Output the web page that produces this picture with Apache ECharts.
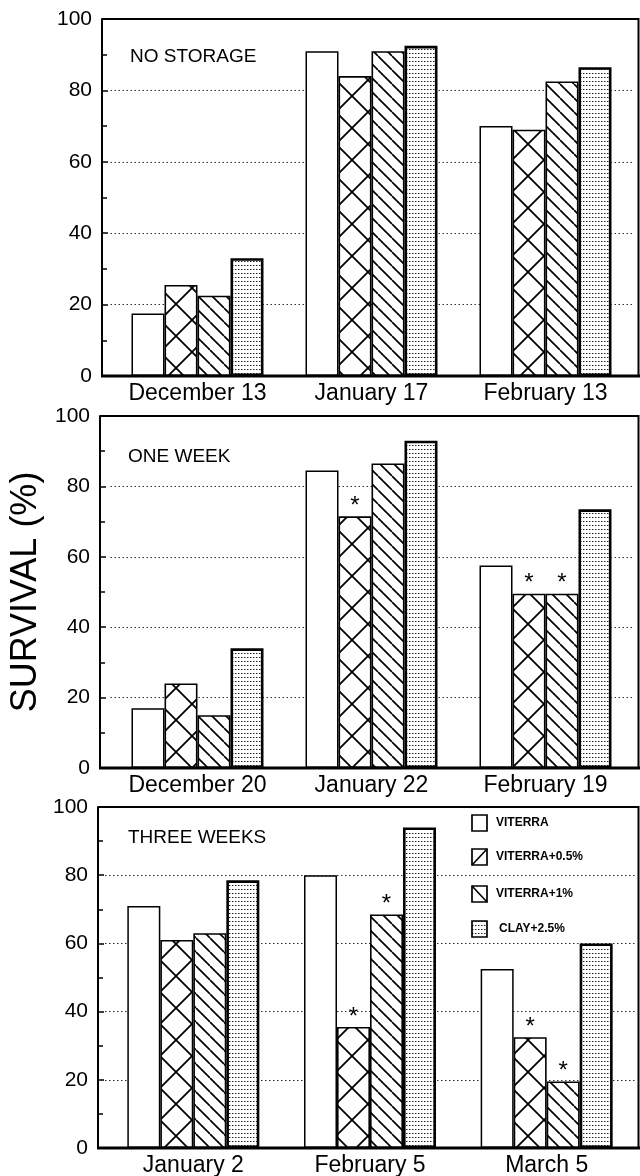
<!DOCTYPE html>
<html><head><meta charset="utf-8">
<script src="https://cdn.jsdelivr.net/npm/echarts@6.0.0/dist/echarts.min.js"></script>
<style>html,body{margin:0;padding:0;background:#fff}#c{width:640px;height:1176px}</style>
</head><body><div id="c"></div>
<script>
// ---------- data ----------
const seriesNames = ['VITERRA', 'VITERRA+0.5%', 'VITERRA+1%', 'CLAY+2.5%'];
const panelTitles = ['NO STORAGE', 'ONE WEEK', 'THREE WEEKS'];
const yAxisName = 'SURVIVAL (%)';
const yMin = 0, yMax = 100, yStep = 20;

const categoriesNoStorage = ['December 13', 'January 17', 'February 13'];
const categoriesOneWeek = ['December 20', 'January 22', 'February 19'];
const categoriesThreeWeeks = ['January 2', 'February 5', 'March 5'];

// NO STORAGE
const noStorageViterra = [17.5, 91, 70];
const noStorageViterra05 = [25.5, 84, 69];
const noStorageViterra1 = [22.5, 91, 82.5];
const noStorageClay = [33, 92.5, 86.5];
// ONE WEEK
const oneWeekViterra = [17, 84.5, 57.5];
const oneWeekViterra05 = [24, 71.5, 49.5];
const oneWeekViterra1 = [15, 86.5, 49.5];
const oneWeekClay = [34, 93, 73.5];
// THREE WEEKS
const threeWeeksViterra = [71, 80, 52.5];
const threeWeeksViterra05 = [61, 35.5, 32.5];
const threeWeeksViterra1 = [63, 68.5, 19.5];
const threeWeeksClay = [78.5, 94, 60];

// significance marks (*) : 1 = marked
const noMarks = [0, 0, 0];
const oneWeekMarks05 = [0, 1, 1];
const oneWeekMarks1 = [0, 0, 1];
const threeWeeksMarks05 = [0, 1, 1];
const threeWeeksMarks1 = [0, 1, 1];

// ---------- patterns ----------
function makeTile(w, h, draw) {
  const c = document.createElement('canvas');
  c.width = w; c.height = h;
  const ctx = c.getContext('2d');
  ctx.fillStyle = '#fff'; ctx.fillRect(0, 0, w, h);
  draw(ctx, w, h);
  return c;
}
const crossTile = makeTile(32, 32, (ctx, T) => {
  ctx.strokeStyle = '#000'; ctx.lineWidth = 1.8; ctx.beginPath();
  for (let k = -1; k <= 1; k++) {
    ctx.moveTo(k * T, 0); ctx.lineTo(k * T + T, T);
    ctx.moveTo(k * T + T, 0); ctx.lineTo(k * T, T);
  }
  ctx.stroke();
});
const diagTile = makeTile(14, 14, (ctx, T) => {
  ctx.strokeStyle = '#000'; ctx.lineWidth = 1.7; ctx.beginPath();
  for (let k = -1; k <= 1; k++) { ctx.moveTo(k * T, 0); ctx.lineTo(k * T + T, T); }
  ctx.stroke();
});
const dotTile = makeTile(3, 4, (ctx) => {
  ctx.fillStyle = '#222'; ctx.fillRect(1, 1, 1, 1);
  ctx.fillStyle = '#999'; ctx.fillRect(2, 1, 1, 1);
});
const fills = [
  '#fff',
  { image: crossTile, repeat: 'repeat' },
  { image: diagTile, repeat: 'repeat' },
  { image: dotTile, repeat: 'repeat' }
];
const borderWidths = [1.5, 1.6, 1.6, 2.6];

// ---------- layout ----------
const FONT = '"Liberation Sans", Arial, Helvetica, sans-serif';
const panels = [
  { top: 19, bottom: 376, left: 110.5, right: 632.5, axisX: 102, cats: categoriesNoStorage,
    vals: [noStorageViterra, noStorageViterra05, noStorageViterra1, noStorageClay],
    marks: [noMarks, noMarks, noMarks, noMarks], titleX: 130, titleY: 57, labelShift: 4 },
  { top: 416, bottom: 768, left: 110.5, right: 632.5, axisX: 100, cats: categoriesOneWeek,
    vals: [oneWeekViterra, oneWeekViterra05, oneWeekViterra1, oneWeekClay],
    marks: [noMarks, oneWeekMarks05, oneWeekMarks1, noMarks], titleX: 128, titleY: 457, labelShift: 18 },
  { top: 807, bottom: 1148, left: 105, right: 635, axisX: 98, cats: categoriesThreeWeeks,
    vals: [threeWeeksViterra, threeWeeksViterra05, threeWeeksViterra1, threeWeeksClay],
    marks: [noMarks, threeWeeksMarks05, threeWeeksMarks1, noMarks], titleX: 128, titleY: 838, labelShift: 0 }
];

const grid = [], xAxis = [], yAxis = [], series = [], graphic = [];
panels.forEach((p, i) => {
  grid.push({ left: p.left, top: p.top, width: p.right - p.left, height: p.bottom - p.top,
    outerBoundsMode: 'none', containLabel: false });
  xAxis.push({ type: 'category', gridIndex: i, data: p.cats,
    axisLine: { show: false }, axisTick: { show: false },
    axisLabel: { interval: 0, fontSize: 23, color: '#000', fontFamily: FONT, margin: 6 } });
  yAxis.push({ type: 'value', gridIndex: i, min: yMin, max: yMax, interval: yStep,
    offset: p.left - p.axisX,
    name: i === 1 ? yAxisName : '', nameLocation: 'middle', nameGap: 46, nameRotate: 90,
    nameTextStyle: { fontSize: 36, color: '#000', fontFamily: FONT },
    axisLine: { show: true, lineStyle: { color: '#000', width: 2 } },
    axisTick: { show: true, inside: true, length: 6, lineStyle: { color: '#000', width: 1.5 } },
    minorTick: { show: true, splitNumber: 2, length: 5, lineStyle: { color: '#000', width: 1.5 } },
    axisLabel: { fontSize: 21, color: '#000', fontFamily: FONT, margin: 10,
      padding: [p.labelShift, 0, 0, 0] },
    splitLine: { show: true, lineStyle: { color: '#333', width: 1, type: [1.5, 2.5] } } });
  seriesNames.forEach((name, s) => {
    const marks = p.marks[s];
    series.push({
      type: 'bar', name: name, xAxisIndex: i, yAxisIndex: i,
      data: p.vals[s], barWidth: 33, barGap: '0%',
      itemStyle: { color: fills[s], borderColor: '#000', borderWidth: borderWidths[s] },
      label: { show: true, position: 'top', distance: -2, fontSize: 24, color: '#000', fontFamily: FONT,
        formatter: (prm) => marks[prm.dataIndex] ? '*' : '' },
      emphasis: { disabled: true }, animation: false
    });
  });
  // frame: top, right, bottom
  graphic.push({ type: 'polyline', silent: true, z: 100,
    shape: { points: [[p.axisX, p.top], [638.5, p.top], [638.5, p.bottom]] },
    style: { stroke: '#000', lineWidth: 2, fill: null } });
  graphic.push({ type: 'line', silent: true, z: 100,
    shape: { x1: p.axisX - 1, y1: p.bottom, x2: 640, y2: p.bottom },
    style: { stroke: '#000', lineWidth: 3 } });
  graphic.push({ type: 'text', silent: true, z: 100, x: p.titleX, y: p.titleY,
    style: { text: panelTitles[i], fontSize: 19, fontFamily: FONT, fill: '#000', align: 'left', verticalAlign: 'middle' } });
});

// legend (inside third panel)
const legendRows = [823, 857, 894, 929];
seriesNames.forEach((name, s) => {
  const cy = legendRows[s];
  const bx = 472, by = cy - 8, bw = 15, bh = 16;
  graphic.push({ type: 'rect', silent: true, z: 100, shape: { x: bx, y: by, width: bw, height: bh },
    style: { fill: s === 3 ? { image: dotTile, repeat: 'repeat' } : '#fff', stroke: '#000', lineWidth: 1.7 } });
  if (s === 1) graphic.push({ type: 'line', silent: true, z: 101, shape: { x1: bx, y1: by + bh, x2: bx + bw, y2: by },
    style: { stroke: '#000', lineWidth: 1.6 } });
  if (s === 2) graphic.push({ type: 'line', silent: true, z: 101, shape: { x1: bx, y1: by, x2: bx + bw, y2: by + bh },
    style: { stroke: '#000', lineWidth: 1.6 } });
  graphic.push({ type: 'text', silent: true, z: 100, x: s === 3 ? 499 : 496, y: cy,
    style: { text: name, fontSize: 12, fontWeight: 'bold', fontFamily: '"Liberation Sans Narrow", "Liberation Sans", sans-serif',
      fill: '#000', align: 'left', verticalAlign: 'middle' } });
});

const chart = echarts.init(document.getElementById('c'), null, { renderer: 'canvas' });
chart.setOption({
  animation: false, backgroundColor: '#fff',
  grid, xAxis, yAxis, series, graphic
});
</script></body></html>
